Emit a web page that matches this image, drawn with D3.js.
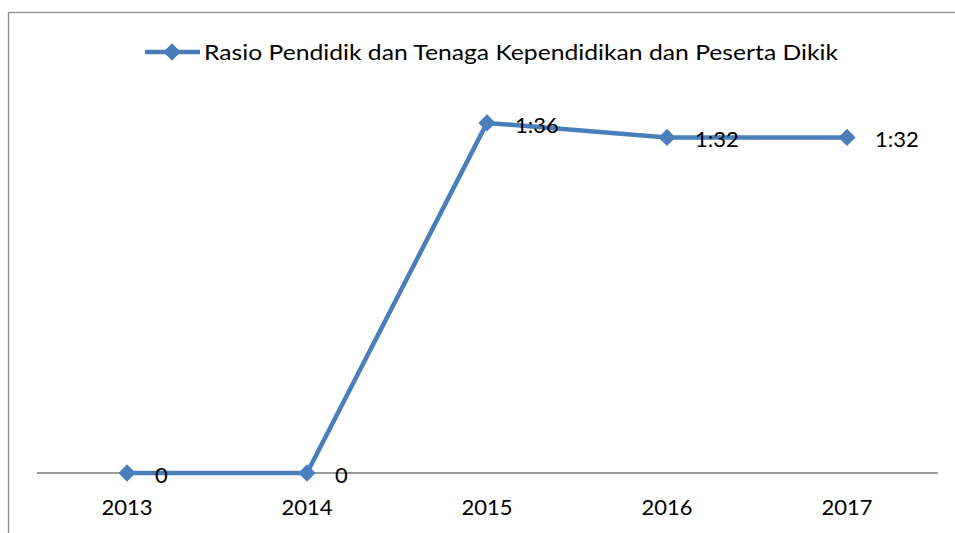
<!DOCTYPE html>
<html><head><meta charset="utf-8">
<script src="https://cdn.jsdelivr.net/npm/d3@7"></script>
<style>
body{margin:0;background:#fff;}
text{font-family:Lato,"Open Sans",sans-serif;fill:#000;}
</style></head>
<body><svg id="c" width="955" height="533"></svg>
<script>
const categories = ["2013","2014","2015","2016","2017"];
const values = [0, 0, 36, 34.5, 34.5];
const valueLabels = ["0","0","1:36","1:32","1:32"];
const seriesName = "Rasio Pendidik dan Tenaga Kependidikan dan Peserta Dikik";

const svg = d3.select("#c");
const color = "#4A7EBB";

// frame
svg.append("rect").attr("x",8.5).attr("y",12.5).attr("width",960).attr("height",540)
  .attr("fill","none").attr("stroke","#8c8c8c").attr("stroke-width",1.3);

const x = d3.scaleBand().domain(categories).range([37,937]);
const y = d3.scaleLinear().domain([0,40]).range([473,84]);

// axis
const ax = svg.append("g").attr("transform","translate(0,473)")
  .call(d3.axisBottom(x).tickSize(0).tickPadding(26));
ax.select(".domain").attr("stroke","#9a9a9a").attr("stroke-width",2).attr("d","M37,0H938");
ax.selectAll("text").attr("font-size",22).attr("font-family","Lato,'Open Sans',sans-serif").attr("fill","#000");

const cx = d => x(d) + x.bandwidth()/2;
const line = d3.line().x((d,i)=>cx(categories[i])).y(d=>y(d));
svg.append("path").datum(values).attr("d",line).attr("fill","none")
  .attr("stroke",color).attr("stroke-width",4.5).attr("stroke-linejoin","round");

const diamond = d3.symbol().type(d3.symbolDiamond2).size(190);
svg.selectAll("path.pt").data(values).join("path").attr("class","pt")
  .attr("d",diamond).attr("fill",color)
  .attr("transform",(d,i)=>`translate(${cx(categories[i])},${y(d)})`);

svg.selectAll("text.lbl").data(values).join("text").attr("class","lbl")
  .attr("x",(d,i)=>cx(categories[i])+28).attr("y",d=>y(d)+10)
  .attr("font-size",22).text((d,i)=>valueLabels[i]);

// legend
svg.append("line").attr("x1",145).attr("x2",200).attr("y1",52).attr("y2",52)
  .attr("stroke",color).attr("stroke-width",4.5);
svg.append("path").attr("d",diamond).attr("fill",color).attr("transform","translate(172,52)");
svg.append("text").attr("x",204).attr("y",60).attr("font-size",21)
  .attr("textLength",634).attr("lengthAdjust","spacingAndGlyphs").text(seriesName);
</script></body></html>
